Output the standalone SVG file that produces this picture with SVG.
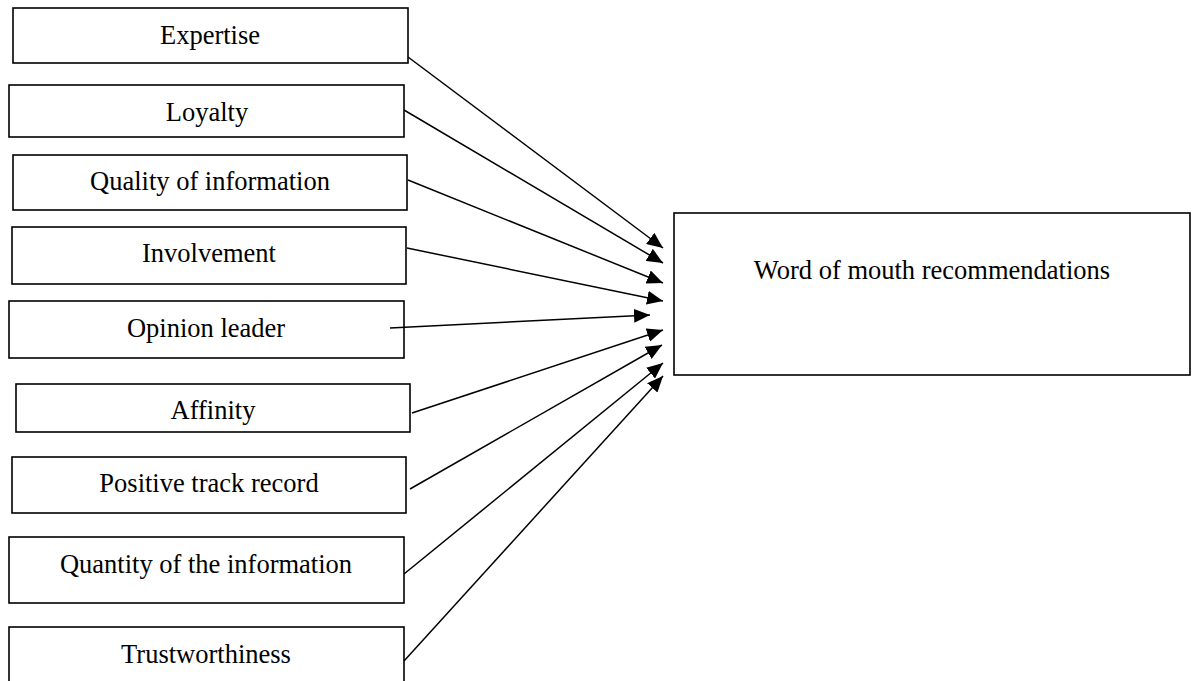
<svg xmlns="http://www.w3.org/2000/svg" width="1192" height="681" viewBox="0 0 1192 681">
<style>
.box{fill:#fff;stroke:#000;stroke-width:1.6}
.lbl{font-family:"Liberation Serif","Times New Roman",serif;font-size:26.5px;fill:#000;text-anchor:middle}
.con{stroke:#000;stroke-width:1.5;fill:none;marker-end:url(#arr)}
</style>
<defs>
<marker id="arr" markerUnits="userSpaceOnUse" markerWidth="16" markerHeight="14" refX="16" refY="7" orient="auto">
<path d="M0,0 L16,7 L0,14 z" fill="#000"/>
</marker>
</defs>
<rect width="1192" height="681" fill="#fff"/>
<g id="n-expertise"><rect class="box" x="13" y="8" width="395" height="55"/><text class="lbl" x="210" y="44">Expertise</text></g>
<g id="n-loyalty"><rect class="box" x="9" y="85" width="395" height="52"/><text class="lbl" x="207" y="121">Loyalty</text></g>
<g id="n-quality"><rect class="box" x="13" y="155" width="394" height="55"/><text class="lbl" x="210" y="190">Quality of information</text></g>
<g id="n-involvement"><rect class="box" x="12" y="227" width="394" height="57"/><text class="lbl" x="209" y="262">Involvement</text></g>
<g id="n-opinion"><rect class="box" x="9" y="301" width="395" height="57"/><text class="lbl" x="206" y="337">Opinion leader</text></g>
<g id="n-affinity"><rect class="box" x="16" y="384" width="394" height="48"/><text class="lbl" x="213" y="419">Affinity</text></g>
<g id="n-positive"><rect class="box" x="12" y="457" width="394" height="56"/><text class="lbl" x="209" y="492">Positive track record</text></g>
<g id="n-quantity"><rect class="box" x="9" y="537" width="395" height="66"/><text class="lbl" x="206" y="573">Quantity of the information</text></g>
<g id="n-trust"><rect class="box" x="9" y="627" width="395" height="70"/><text class="lbl" x="206" y="663">Trustworthiness</text></g>
<g id="n-wom"><rect class="box" x="674" y="213" width="516" height="162"/><text class="lbl" x="932" y="279">Word of mouth recommendations</text></g>
<g id="connectors">
<line class="con" x1="408" y1="57" x2="663" y2="248"/>
<line class="con" x1="404" y1="110" x2="663" y2="263"/>
<line class="con" x1="408" y1="180" x2="663" y2="283"/>
<line class="con" x1="407" y1="248" x2="663" y2="301"/>
<line class="con" x1="390" y1="328" x2="650" y2="315"/>
<line class="con" x1="412" y1="413" x2="663" y2="330"/>
<line class="con" x1="410" y1="489" x2="662" y2="345"/>
<line class="con" x1="404" y1="574" x2="663" y2="363"/>
<line class="con" x1="404" y1="661" x2="663" y2="376"/>
</g>
</svg>
